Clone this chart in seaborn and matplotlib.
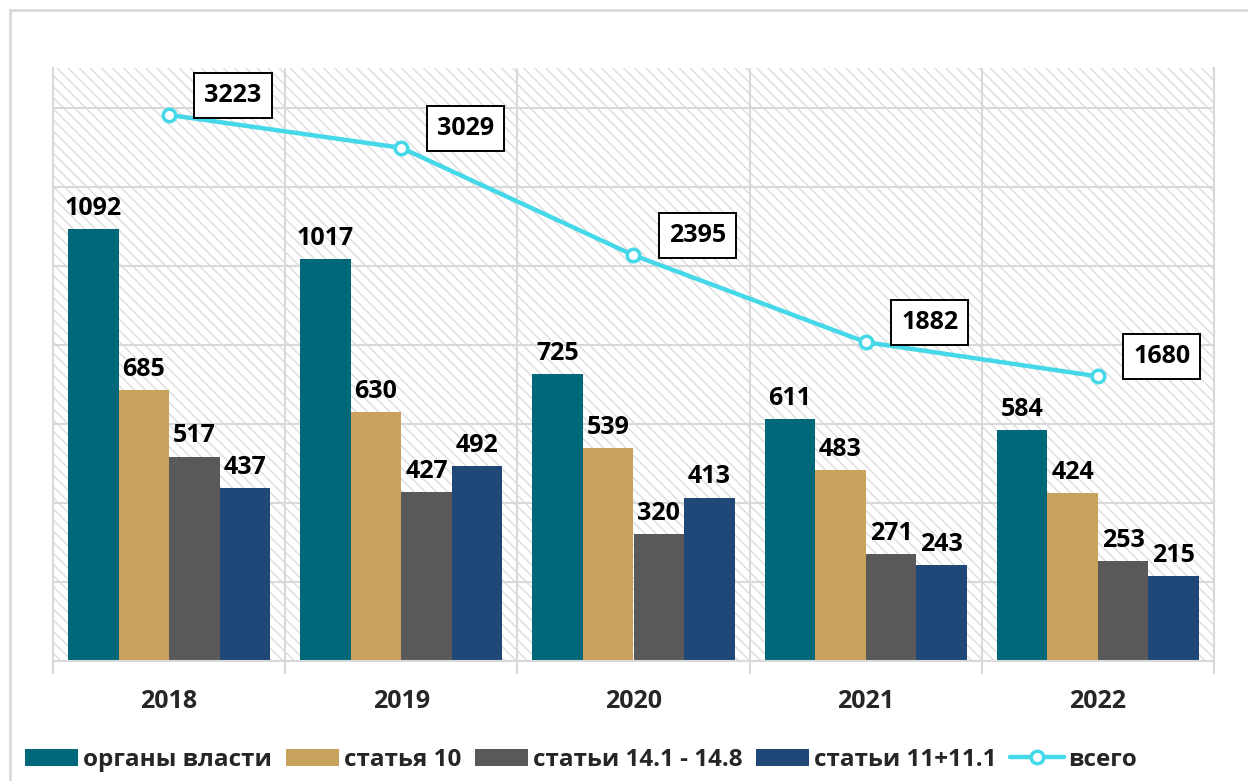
import numpy as np
import pandas as pd
import matplotlib
matplotlib.use("Agg")
import matplotlib.pyplot as plt
from matplotlib.patches import Rectangle, Patch
from matplotlib.lines import Line2D
import seaborn as sns

years = ["2018", "2019", "2020", "2021", "2022"]
series_names = ["органы власти", "статья 10", "статьи 14.1 - 14.8", "статьи 11+11.1"]
organy = [1092, 1017, 725, 611, 584]
statya10 = [685, 630, 539, 483, 424]
statyi14 = [517, 427, 320, 271, 253]
statyi11 = [437, 492, 413, 243, 215]
total_name = "всего"
totals = [3223, 3029, 2395, 1882, 1680]

colors = ["#006878", "#C9A25E", "#595959", "#1F4879"]
line_color = "#44D8E9"
grid_color = "#D9D9D9"

sns.set_theme(style="white")
plt.rcParams["font.family"] = ["Open Sans", "DejaVu Sans"]
plt.rcParams["hatch.linewidth"] = 1.0

df = pd.DataFrame({
    "year": np.repeat(years, len(series_names)),
    "series": series_names * len(years),
    "value": [v for row in zip(organy, statya10, statyi14, statyi11) for v in row],
})

fig = plt.figure(figsize=(12.48, 7.81), dpi=100)
fig.patch.set_facecolor("white")
ax = fig.add_axes([53 / 1248, 1 - 661 / 781, (1214 - 53) / 1248, (661 - 68) / 781])

# outer frame
fig.patches.append(Rectangle((10 / 1248, -0.2), 1.2, 1.2 - 10 / 781, transform=fig.transFigure,
                             fill=False, edgecolor=grid_color, linewidth=2, zorder=0))

# hatched background
ax.patch.set_facecolor("white")
ax.add_patch(Rectangle((0, 0), 1, 1, transform=ax.transAxes, facecolor="white",
                       edgecolor="#DCDCDC", hatch="\\\\\\", linewidth=0, zorder=0.1))

sns.barplot(data=df, x="year", y="value", hue="series", palette=colors, width=0.87,
            saturation=1, ax=ax, legend=False, errorbar=None, zorder=2, linewidth=0)

FS = 18
lab_font = dict(fontsize=FS, fontweight="bold", color="black")
for cont in ax.containers:
    ax.bar_label(cont, padding=6, **lab_font)

ax.set_ylim(0, 1500)
ax.set_xlim(-0.5, 4.5)
ax.set_yticks(range(0, 1600, 200))
ax.set_yticklabels([])
ax.set_xticks(np.arange(-0.5, 5, 1), minor=True)
ax.set_axisbelow(True)
ax.grid(axis="y", which="major", color=grid_color, linewidth=1.5)
ax.grid(axis="x", which="minor", color=grid_color, linewidth=1.5)
ax.grid(axis="x", which="major", visible=False)
ax.tick_params(axis="x", which="major", length=0, pad=20, labelsize=FS)
ax.tick_params(axis="x", which="minor", length=9, width=1.5, color=grid_color, bottom=True)
ax.tick_params(axis="y", length=0)
for lbl in ax.get_xticklabels():
    lbl.set_fontweight("bold")
ax.set_xlabel("")
ax.set_ylabel("")
for s in ["left", "right", "bottom"]:
    ax.spines[s].set_visible(True)
    ax.spines[s].set_color(grid_color)
    ax.spines[s].set_linewidth(1.5)
ax.spines["top"].set_visible(False)

ax2 = ax.twinx()
sns.pointplot(x=years, y=totals, ax=ax2, color=line_color, markers="o", errorbar=None,
              linewidth=3.2, markersize=9)
for ln in ax2.lines:
    ln.set_markerfacecolor("white")
    ln.set_markeredgecolor(line_color)
    ln.set_markeredgewidth(2.5)
    ln.set_zorder(5)
ax2.set_ylim(0, 3500)
ax2.set_xlim(-0.5, 4.5)
ax2.set_yticks([])
ax2.set_ylabel("")
ax2.grid(False)
for s in ax2.spines.values():
    s.set_visible(False)

for i, v in enumerate(totals):
    ax2.annotate(str(v), xy=(i, v), xytext=(46, 14), textcoords="offset points",
                 ha="center", va="center", fontsize=FS, fontweight="bold", color="black",
                 bbox=dict(boxstyle="square,pad=0.4", facecolor="white", edgecolor="black",
                           linewidth=1.4), zorder=6)

handles = [Patch(facecolor=c, edgecolor="none") for c in colors]
handles.append(Line2D([0], [0], color=line_color, linewidth=3.2, marker="o", markersize=9,
                      markerfacecolor="white", markeredgecolor=line_color, markeredgewidth=2.5))
labels = series_names + [total_name]
leg = fig.legend(handles, labels, loc="center left", bbox_to_anchor=(25 / 1248, 1 - 760 / 781),
                 ncol=5, frameon=False, fontsize=17.5, handlelength=2.2, handleheight=0.75,
                 handletextpad=0.2, columnspacing=0.55, borderaxespad=0, borderpad=0)
for t in leg.get_texts():
    t.set_fontweight("bold")

fig.savefig("out.png", dpi=100, facecolor="white")
